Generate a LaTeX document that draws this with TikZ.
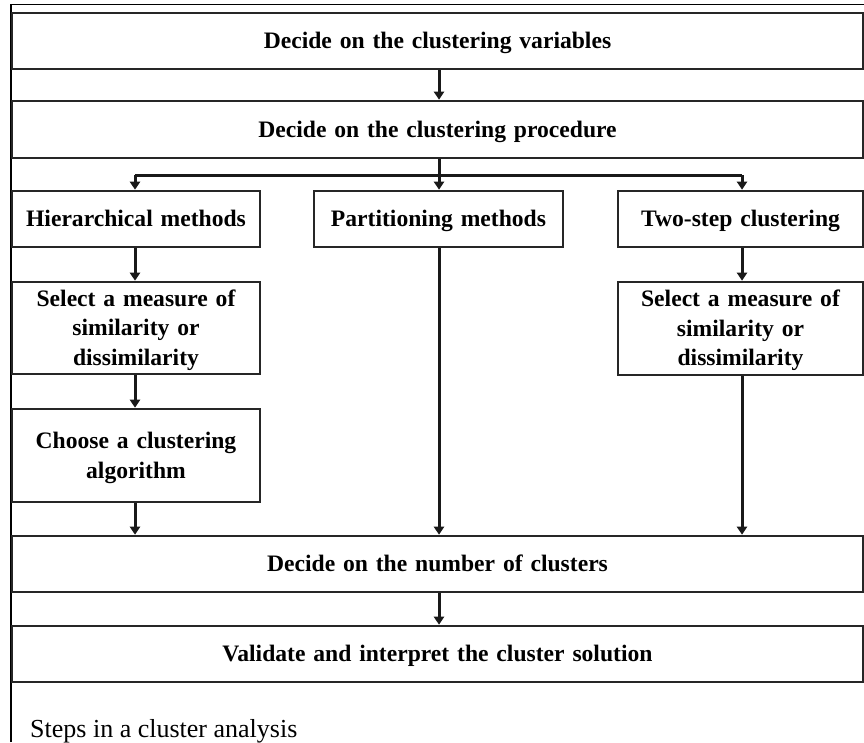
\documentclass[tikz,border=0pt]{standalone}
\usepackage{fontspec}
\setmainfont{Liberation Serif}
\usetikzlibrary{arrows.meta}

\tikzset{
  box/.style={draw=black!85, line width=2.6pt, rectangle, inner sep=0pt,
    align=center, font=\fontsize{23.6}{29.5}\selectfont\bfseries},
  link/.style={draw=black!90, line width=3pt},
  flow/.style={link, -{Triangle[length=8pt,width=10pt]}},
  frame/.style={draw=black, line width=1.6pt}
}

% place a box by its corners (x1,y1) (x2,y2), y measured downward;
% #6 = number of text lines, so caps of the first line and the
% baseline of the last one are centred in the box
\newcommand{\boxat}[7]{%
  \node[box, minimum width={#4-#2}, minimum height={#5-#3},
        text width={#4-#2-12},
        text height=15.6pt, text depth={(#6-1)*29.5pt}]
        (#1) at ({(#2+#4)/2},{(#3+#5)/2}) {#7};}

\begin{document}
\begin{tikzpicture}[x=1pt, y=-1pt]
  \useasboundingbox (0,0) rectangle (864,742);

  % outer frame (top and left edges only)
  \draw[frame] (11,742) -- (11,4.5) -- (864,4.5);

  % boxes
  \boxat{vars}{12}{13}{863}{69}{1}{Decide on the clustering variables}
  \boxat{proc}{12}{101}{863}{158}{1}{Decide on the clustering procedure}
  \boxat{hier}{12}{191}{260}{247}{1}{Hierarchical methods}
  \boxat{part}{314}{191}{563}{247}{1}{Partitioning methods}
  \boxat{twostep}{618}{191}{863}{247}{1}{Two-step clustering}
  \boxat{simL}{12}{282}{260}{374}{3}{Select a measure of\\ similarity or\\ dissimilarity}
  \boxat{simR}{618}{282}{863}{375}{3}{Select a measure of\\ similarity or\\ dissimilarity}
  \boxat{algo}{12}{409}{260}{502}{2}{Choose a clustering\\ algorithm}
  \boxat{number}{12}{536}{863}{592}{1}{Decide on the number of clusters}
  \boxat{valid}{12}{626}{863}{682}{1}{Validate and interpret the cluster solution}

  % branching point below the procedure box
  \coordinate (fork) at (439,175);
  \coordinate (forkL) at (135,175);
  \coordinate (forkR) at (742,175);

  % connectors
  \draw[flow] (vars.south -| fork) -- (proc.north -| fork);
  \draw[link] (proc.south -| fork) -- (fork);
  \draw[link] (forkL) -- (forkR);
  \draw[flow] (forkL) -- (hier.north -| forkL);
  \draw[flow] (fork) -- (part.north -| fork);
  \draw[flow] (forkR) -- (twostep.north -| forkR);
  \draw[flow] (hier.south -| forkL) -- (simL.north -| forkL);
  \draw[flow] (simL.south -| forkL) -- (algo.north -| forkL);
  \draw[flow] (algo.south -| forkL) -- (number.north -| forkL);
  \draw[flow] (part.south -| fork) -- (number.north -| fork);
  \draw[flow] (twostep.south -| forkR) -- (simR.north -| forkR);
  \draw[flow] (simR.south -| forkR) -- (number.north -| forkR);
  \draw[flow] (number.south -| fork) -- (valid.north -| fork);

  % caption
  \node[anchor=base west, inner sep=0pt, font=\fontsize{26}{30}\selectfont]
    (caption) at (30,737) {Steps in a cluster analysis};
\end{tikzpicture}
\end{document}
